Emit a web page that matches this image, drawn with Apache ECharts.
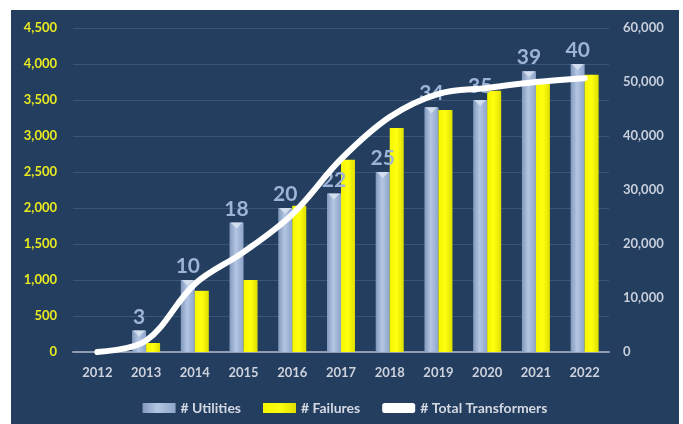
<!DOCTYPE html>
<html>
<head>
<meta charset="utf-8">
<script src="https://cdn.jsdelivr.net/npm/echarts@6/dist/echarts.min.js"></script>
<style>
  html, body { margin: 0; padding: 0; background: #ffffff; }
  #chart { position: absolute; left: 11px; top: 10px; width: 668px; height: 414px; }
</style>
</head>
<body>
<div id="chart"></div>
<script>
// Yearly figures
const years = ['2012', '2013', '2014', '2015', '2016', '2017', '2018', '2019', '2020', '2021', '2022'];
const utilities = [null, 3, 10, 18, 20, 22, 25, 34, 35, 39, 40];
const failures = [null, 125, 850, 1000, 2030, 2670, 3110, 3360, 3630, 3740, 3850];
const totalTransformers = [0, 2100, 12600, 18500, 25500, 35700, 43500, 47800, 48900, 50000, 50700];

const FONT = 'Lato, "Open Sans", sans-serif';
const fmt = v => Number(v).toLocaleString('en-US');

const chart = echarts.init(document.getElementById('chart'));
chart.setOption({
  backgroundColor: '#243e60',
  animation: false,
  textStyle: { fontFamily: FONT },
  grid: { left: 62, right: 70, top: 18, bottom: 72 },
  legend: {
    top: 386,
    left: 'center',
    itemWidth: 33,
    itemHeight: 10,
    itemGap: 22,
    textStyle: { color: '#d3d8e2', fontSize: 14, fontWeight: 'bold', fontFamily: FONT },
    data: [
      { name: '# Utilities', icon: 'rect' },
      { name: '# Failures', icon: 'rect' },
      { name: '# Total Transformers', icon: 'roundRect' }
    ]
  },
  xAxis: {
    type: 'category',
    data: years,
    axisLine: { lineStyle: { color: '#8e9bb1', width: 2 } },
    axisTick: { show: false },
    axisLabel: { color: '#cdd2dc', fontSize: 13, fontWeight: 'bold', margin: 14 }
  },
  yAxis: [
    {
      type: 'value', min: 0, max: 4500, interval: 500,
      axisLine: { show: false }, axisTick: { show: false },
      axisLabel: { color: '#eaea1e', fontSize: 13, fontWeight: 'bold', margin: 16, formatter: fmt },
      splitLine: { lineStyle: { color: '#3a5578', width: 1 } }
    },
    {
      type: 'value', min: 0, max: 60000, interval: 10000, position: 'right',
      axisLine: { show: false }, axisTick: { show: false },
      axisLabel: { color: '#c9cfdb', fontSize: 13, fontWeight: 'bold', margin: 14, formatter: fmt },
      splitLine: { show: false }
    },
    {
      // utilities count scale (0-45 aligned with the left axis)
      type: 'value', min: 0, max: 45, show: false, splitLine: { show: false }
    }
  ],
  series: [
    {
      name: '# Utilities',
      type: 'bar',
      yAxisIndex: 2,
      data: utilities,
      barWidth: 14,
      barGap: '0%',
      z: 2,
      itemStyle: {
        color: new echarts.graphic.LinearGradient(0, 0, 1, 0, [
          { offset: 0, color: '#8299bd' },
          { offset: 0.45, color: '#b4c6e2' },
          { offset: 1, color: '#8da5ca' }
        ])
      },
      label: {
        show: true, position: 'top', distance: 3,
        color: '#9db4d7', fontSize: 21, fontWeight: 'bold', fontFamily: FONT
      }
    },
    {
      name: '# Failures',
      type: 'bar',
      yAxisIndex: 0,
      data: failures,
      barWidth: 14,
      z: 2,
      itemStyle: {
        color: new echarts.graphic.LinearGradient(0, 0, 1, 0, [
          { offset: 0, color: '#f6f600' },
          { offset: 0.5, color: '#ffff10' },
          { offset: 1, color: '#dede00' }
        ])
      }
    },
    {
      // bevel highlight at the top of each utilities bar
      name: 'bevel',
      type: 'scatter',
      yAxisIndex: 2,
      data: utilities,
      symbol: 'triangle',
      symbolRotate: 180,
      symbolSize: [12, 6],
      symbolOffset: [-7, 3],
      itemStyle: { color: '#dce6f3' },
      z: 3,
      silent: true
    },
    {
      name: '# Total Transformers',
      type: 'line',
      yAxisIndex: 1,
      data: totalTransformers,
      smooth: 0.35,
      showSymbol: false,
      symbol: 'none',
      z: 6,
      lineStyle: { color: '#ffffff', width: 6, cap: 'round', join: 'round' },
      itemStyle: { color: '#ffffff' }
    }
  ]
});
</script>
</body>
</html>
